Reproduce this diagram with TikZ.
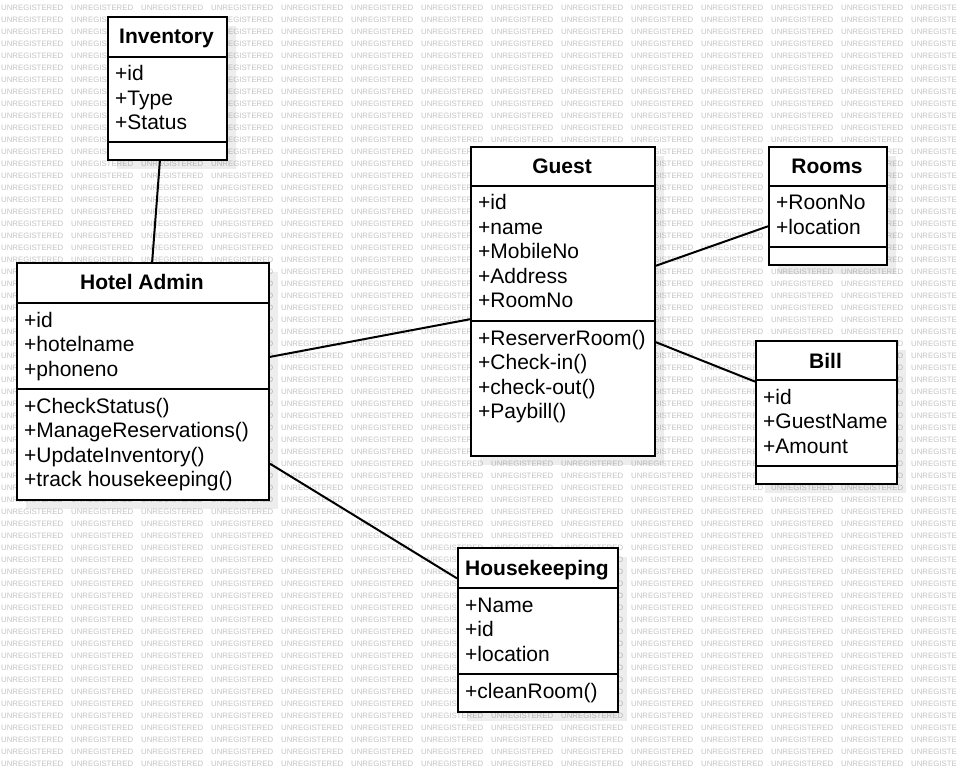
\documentclass[tikz,border=0pt]{standalone}
\usepackage{fontspec}
\setmainfont{Liberation Sans}
\usetikzlibrary{calc}
\definecolor{wmgray}{RGB}{196,196,196}
\tikzset{
  wm/.style={anchor=west, inner sep=0pt, text=wmgray, font=\fontsize{7.8}{8}\selectfont},
  shadowbox/.style={fill=black, opacity=0.07},
  classbox/.style={draw=black, line width=2pt, fill=white, inner sep=0pt, anchor=north west},
  sepline/.style={line width=2pt},
  titletext/.style={anchor=base, inner sep=0pt, font=\fontsize{21}{24}\selectfont\bfseries},
  member/.style={anchor=base west, inner sep=0pt, font=\fontsize{21}{24}\selectfont},
  assoc/.style={line width=2pt},
}
\begin{document}
\begin{tikzpicture}[x=1pt, y=-1pt]
\useasboundingbox (0,0) rectangle (960,775);
\clip (0,0) rectangle (960,775);
\fill[white] (0,0) rectangle (960,775);
% watermark
\foreach \r in {0,...,63} {
  \foreach \c in {0,...,12} {
    \node[wm] at ({\c*70+1}, {8+\r*12}) {UNREGISTERED};
  }
  \node[wm] at (911, {8+\r*12}) {UNREGISTE};
}
% shadows
\fill[shadowbox] (117,26) rectangle (236,169);
\fill[shadowbox] (480,156) rectangle (664,465);
\fill[shadowbox] (778,156) rectangle (896,274);
\fill[shadowbox] (765,350) rectangle (906,493);
\fill[shadowbox] (26,272) rectangle (278,509);
\fill[shadowbox] (467,557) rectangle (627,721);

% Inventory
\node[classbox, minimum width=119pt, minimum height=143pt] (inv) at (107,16) {};
\draw[sepline] (107,57) -- (226,57);
\draw[sepline] (107,142) -- (226,142);
\node[titletext] (invt) at (166.5,44) {Inventory};
\node[member] (inv1) at (115,81) {+id};
\node[member] (inv2) at (115,105.5) {+Type};
\node[member] (inv3) at (115,130) {+Status};

% Guest
\node[classbox, minimum width=184pt, minimum height=309pt] (gst) at (470,146) {};
\draw[sepline] (470,186) -- (654,186);
\draw[sepline] (470,321) -- (654,321);
\node[titletext] (gstt) at (562,174) {Guest};
\node[member] (g1) at (478,210) {+id};
\node[member] (g2) at (478,234.5) {+name};
\node[member] (g3) at (478,259) {+MobileNo};
\node[member] (g4) at (478,283.5) {+Address};
\node[member] (g5) at (478,308) {+RoomNo};
\node[member] (g6) at (478,345) {+ReserverRoom()};
\node[member] (g7) at (478,369.5) {+Check-in()};
\node[member] (g8) at (478,394) {+check-out()};
\node[member] (g9) at (478,418.5) {+Paybill()};

% Rooms
\node[classbox, minimum width=118pt, minimum height=118pt] (rm) at (768,146) {};
\draw[sepline] (768,186) -- (886,186);
\draw[sepline] (768,247) -- (886,247);
\node[titletext] (rmt) at (827,174) {Rooms};
\node[member] (r1) at (776,210) {+RoonNo};
\node[member] (r2) at (776,234.5) {+location};

% Bill
\node[classbox, minimum width=141pt, minimum height=143pt] (bill) at (755,340) {};
\draw[sepline] (755,380) -- (896,380);
\draw[sepline] (755,466) -- (896,466);
\node[titletext] (billt) at (825.5,368) {Bill};
\node[member] (b1) at (763,404) {+id};
\node[member] (b2) at (763,428.5) {+GuestName};
\node[member] (b3) at (763,453) {+Amount};

% Hotel Admin
\node[classbox, minimum width=252pt, minimum height=237pt] (adm) at (16,262) {};
\draw[sepline] (16,303) -- (268,303);
\draw[sepline] (16,389) -- (268,389);
\node[titletext] (admt) at (142,290) {Hotel Admin};
\node[member] (a1) at (24,327) {+id};
\node[member] (a2) at (24,351.5) {+hotelname};
\node[member] (a3) at (24,376) {+phoneno};
\node[member] (a4) at (24,413) {+CheckStatus()};
\node[member] (a5) at (24,437.5) {+ManageReservations()};
\node[member] (a6) at (24,462) {+UpdateInventory()};
\node[member] (a7) at (24,486.5) {+track housekeeping()};

% Housekeeping
\node[classbox, minimum width=160pt, minimum height=164pt] (hk) at (457,547) {};
\draw[sepline] (457,588) -- (617,588);
\draw[sepline] (457,674) -- (617,674);
\node[titletext] (hkt) at (537,575) {Housekeeping};
\node[member] (h1) at (465,612) {+Name};
\node[member] (h2) at (465,636.5) {+id};
\node[member] (h3) at (465,661) {+location};
\node[member] (h4) at (465,698) {+cleanRoom()};

% associations
\draw[assoc] ($(inv.south west)!0.437!(inv.south east)$) -- ($(adm.north west)!0.536!(adm.north east)$);
\draw[assoc] ($(adm.north east)!0.397!(adm.south east)$) -- ($(gst.north west)!0.557!(gst.south west)$);
\draw[assoc] ($(adm.north east)!0.844!(adm.south east)$) -- ($(hk.north west)!0.189!(hk.south west)$);
\draw[assoc] ($(gst.north east)!0.385!(gst.south east)$) -- ($(rm.north west)!0.669!(rm.south west)$);
\draw[assoc] ($(gst.north east)!0.631!(gst.south east)$) -- ($(bill.north west)!0.287!(bill.south west)$);
\end{tikzpicture}
\end{document}
